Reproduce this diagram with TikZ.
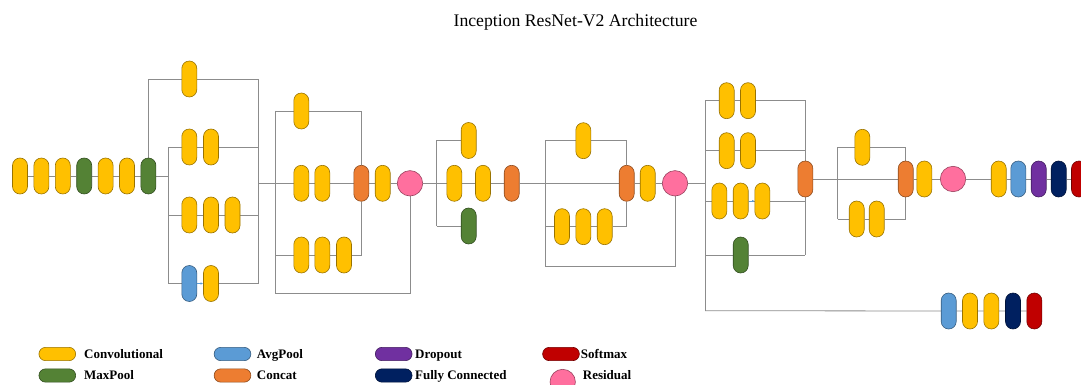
\documentclass[tikz,border=0pt]{standalone}
\usepackage{fontspec}
\setmainfont{Liberation Serif}
\usetikzlibrary{backgrounds,arrows.meta}

\definecolor{convcol}{HTML}{FFC000}
\definecolor{maxcol}{HTML}{548235}
\definecolor{avgcol}{HTML}{5B9BD5}
\definecolor{catcol}{HTML}{ED7D31}
\definecolor{dropcol}{HTML}{7030A0}
\definecolor{densecol}{HTML}{002060}
\definecolor{softcol}{HTML}{C00000}
\definecolor{rescol}{HTML}{FF6F9E}
\definecolor{wirecol}{HTML}{8C8C8C}

\begin{document}
\begin{tikzpicture}[x=1pt, y=-1pt,
        pill/.style = {rectangle,
                rounded corners=7.5pt,
                minimum width=15pt,
                minimum height=36pt,
                inner sep=0pt,
                line width=0.6pt,
                fill=#1, draw=#1!60!black},
        conv/.style = {pill=convcol},
        maxp/.style = {pill=maxcol},
        avgp/.style = {pill=avgcol},
        cat/.style = {pill=catcol},
        drop/.style = {pill=dropcol},
        dense/.style = {pill=densecol},
        soft/.style = {pill=softcol},
        res/.style = {circle,
                minimum size=25.4pt,
                inner sep=0pt,
                line width=0.6pt,
                fill=rescol, draw=rescol!60!black},
        keypill/.style = {rectangle,
                rounded corners=6.6pt,
                minimum width=36.7pt,
                minimum height=13.3pt,
                inner sep=0pt,
                line width=0.6pt,
                fill=#1, draw=#1!60!black},
        keytext/.style = {anchor=base west, inner sep=0pt,
                font=\fontsize{13}{15}\selectfont\bfseries},
        wire/.style = {draw=wirecol, line width=0.8pt},
        bluetip/.style = {draw=avgcol, line width=0.4pt,
                -{Latex[length=2.5pt,width=2.2pt]}}]

    \useasboundingbox (0,0) rectangle (1081,385);
    \clip (0,0) rectangle (1081,385);

    % Title
    \node[font=\fontsize{17.7}{20}\selectfont, anchor=base] (title) at (575.5,26.7)
        {Inception ResNet-V2 Architecture};

    % Stem
    \node[conv] (s1) at (20,176) {};
    \node[conv] (s2) at (41.4,176) {};
    \node[conv] (s3) at (62.8,176) {};
    \node[maxp] (s4) at (84.2,176) {};
    \node[conv] (s5) at (105.6,176) {};
    \node[conv] (s6) at (127,176) {};
    \node[maxp] (s7) at (148.4,176) {};

    % Mixed block
    \node[conv] (a1) at (189.3,79) {};
    \node[conv] (a2) at (189.3,147) {};
    \node[conv] (a3) at (211,147) {};
    \node[conv] (a4) at (189.3,215) {};
    \node[conv] (a5) at (211,215) {};
    \node[conv] (a6) at (232.5,215) {};
    \node[avgp] (a7) at (189.3,283.5) {};
    \node[conv] (a8) at (211,283.5) {};
    \coordinate (aLt) at (168,147);
    \coordinate (aLb) at (168,283.5);
    \coordinate (aRt) at (258,79);
    \coordinate (aRb) at (258,283.5);
    \coordinate (aout) at (258,183.3);

    % Inception-ResNet block A
    \node[conv] (b1) at (301.3,111) {};
    \node[conv] (b2) at (301.3,183.3) {};
    \node[conv] (b3) at (322.3,183.3) {};
    \node[cat] (bc) at (361.3,183.3) {};
    \node[conv] (b4) at (382.7,183.3) {};
    \node[res] (br) at (410,183.3) {};
    \node[conv] (b5) at (301.3,255) {};
    \node[conv] (b6) at (322.3,255) {};
    \node[conv] (b7) at (344,255) {};
    \coordinate (bLt) at (275.3,111);
    \coordinate (bLb) at (275.3,293.3);

    % Reduction block A
    \node[conv] (c1) at (468.7,140.5) {};
    \node[conv] (c2) at (454.3,183.3) {};
    \node[conv] (c3) at (483,183.3) {};
    \node[cat] (cc) at (511.7,183.3) {};
    \node[maxp] (c4) at (468.7,226) {};
    \coordinate (cLt) at (436.7,140.5);
    \coordinate (cLb) at (436.7,226);

    % Inception-ResNet block B
    \node[conv] (d1) at (583.3,140.7) {};
    \node[cat] (dc) at (626.7,183.3) {};
    \node[conv] (d2) at (647.7,183.3) {};
    \node[res] (dr) at (675,183.3) {};
    \node[conv] (d3) at (562,226.7) {};
    \node[conv] (d4) at (583.3,226.7) {};
    \node[conv] (d5) at (604.7,226.7) {};
    \coordinate (dLt) at (545,140.7);
    \coordinate (dLb) at (545,266.7);

    % Reduction block B
    \node[conv] (e1) at (726.7,100.7) {};
    \node[conv] (e2) at (748,100.7) {};
    \node[conv] (e3) at (726.7,150.7) {};
    \node[conv] (e4) at (748,150.7) {};
    \node[conv] (e5) at (719.3,201) {};
    \node[conv] (e6) at (740.7,201) {};
    \node[conv] (e7) at (762.3,201) {};
    \node[maxp] (e8) at (740.7,255) {};
    \node[cat] (ec) at (805.3,179) {};
    \coordinate (eLt) at (705,100.7);
    \coordinate (eLb) at (705,310.7);
    \coordinate (eRt) at (805.3,100.7);
    \coordinate (eRb) at (805.3,255);

    % Inception-ResNet block C
    \node[conv] (f1) at (862.3,147.3) {};
    \node[conv] (f3) at (856.7,219) {};
    \node[conv] (f4) at (876.7,219) {};
    \node[cat] (fc) at (905.7,179) {};
    \node[conv] (f2) at (924.3,179) {};
    \node[res] (fr) at (953,179) {};
    \coordinate (fLt) at (837.7,147.3);
    \coordinate (fLb) at (837.7,219);

    % Head
    \node[conv] (g1) at (998.7,179) {};
    \node[avgp] (g2) at (1018.3,179) {};
    \node[drop] (g3) at (1038.7,179) {};
    \node[dense] (g4) at (1058.7,179) {};
    \node[soft] (g5) at (1079,179) {};

    % Auxiliary head
    \node[avgp] (h1) at (948.7,311) {};
    \node[conv] (h2) at (970,311) {};
    \node[conv] (h3) at (991.3,311) {};
    \node[dense] (h4) at (1013,311) {};
    \node[soft] (h5) at (1034.3,311) {};

    % Connectors
    \begin{scope}[on background layer]
        \draw[wire] (s1) -- (s2) -- (s3) -- (s4) -- (s5) -- (s6) -- (s7) -- (s7 -| aLt);
        \draw[wire] (s7.center) |- (a1) -- (aRt) -- (aRb);
        \draw[wire] (aLt) -- (aLb);
        \draw[wire] (aLt) -- (a2) -- (a3) -- (a3 -| aRt);
        \draw[wire] (aLt |- a4) -- (a4) -- (a5) -- (a6) -- (a6 -| aRt);
        \draw[wire] (aLb) -- (a7);
        \draw[wire] (a8) -- (aRb);
        \draw[wire] (aout) -- (aout -| bLt);

        \draw[wire] (bLt) -- (bLb);
        \draw[wire] (bLt) -- (b1) -- (b1 -| bc) -- (bc);
        \draw[wire] (aout -| bLt) -- (b2) -- (b3) -- (bc) -- (b4) -- (br);
        \draw[wire] (bLt |- b5) -- (b5) -- (b6) -- (b7) -- (b7 -| bc) -- (bc);
        \draw[wire] (bLb) -- (bLb -| br) -- (br);
        \draw[wire] (br) -- (cLt |- br);

        \draw[wire] (cLt) -- (cLb);
        \draw[wire] (cLt) -- (c1);
        \draw[wire] (cLb) -- (c4);
        \draw[wire] (cLt |- br) -- (c2) -- (c3) -- (cc) -- (dLt |- cc);

        \draw[wire] (dLt) -- (dLb);
        \draw[wire] (dLt) -- (d1) -- (d1 -| dc) -- (dc);
        \draw[wire] (dLt |- dc) -- (dc) -- (d2) -- (dr) -- (eLt |- dr);
        \draw[wire] (dLt |- d3) -- (d3) -- (d4) -- (d5) -- (d5 -| dc) -- (dc);
        \draw[wire] (dLb) -- (dLb -| dr) -- (dr);

        \draw[wire] (eLt) -- (eLb);
        \draw[wire] (eLt) -- (e1) -- (e2) -- (eRt) -- (eRb);
        \draw[wire] (eLt |- e3) -- (e3) -- (e4) -- (e4 -| eRt);
        \draw[wire] (eLt |- e5) -- (e5) -- (e6) -- (e7) -- (e7 -| eRt);
        \draw[wire] (eLt |- e8) -- (e8) -- (eRb);
        \draw[wire] (eLb) -- (h1) -- (h2) -- (h3) -- (h4) -- (h5);

        \draw[wire] (fLt) -- (fLb);
        \draw[wire] (fLt) -- (f1) -- (f1 -| fc) -- (fc);
        \draw[wire] (fLb) -- (f3) -- (f4) -- (f4 -| fc) -- (fc);
        \draw[wire] (ec) -- (fc) -- (f2) -- (fr) -- (g1) -- (g2) -- (g3) -- (g4) -- (g5);
    \end{scope}
    \draw[bluetip] (a7) -- (a8);
    \draw[bluetip] (e6) -- (e7);

    % Legend
    \node[keypill=convcol] (k1) at (57.3,354) {};
    \node[keytext] (t1) at (84,358.3) {Convolutional};
    \node[keypill=maxcol] (k2) at (57.3,375.5) {};
    \node[keytext] (t2) at (84,379.3) {MaxPool};
    \node[keypill=avgcol] (k3) at (232.5,354) {};
    \node[keytext] (t3) at (256.7,358.3) {AvgPool};
    \node[keypill=catcol] (k4) at (232.5,375.5) {};
    \node[keytext] (t4) at (256.7,379.3) {Concat};
    \node[keypill=dropcol] (k5) at (393.7,354) {};
    \node[keytext] (t5) at (415,358.3) {Dropout};
    \node[keypill=densecol] (k6) at (393.7,375.5) {};
    \node[keytext] (t6) at (415,379.3) {Fully Connected};
    \node[keypill=softcol] (k7) at (561,354) {};
    \node[keytext] (t7) at (580.7,358.3) {Softmax};
    \node[res] (k8) at (562.7,382) {};
    \node[keytext] (t8) at (582.7,379.3) {Residual};

\end{tikzpicture}
\end{document}
